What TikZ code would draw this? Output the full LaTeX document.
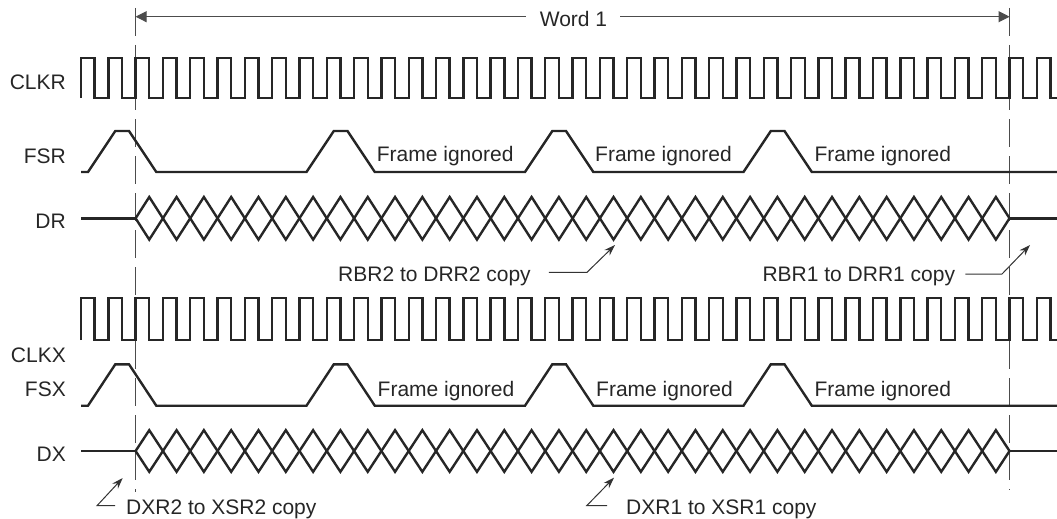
\documentclass[tikz,border=0pt]{standalone}
\usepackage{fontspec}
\setmainfont{Liberation Sans}
\usetikzlibrary{arrows.meta}
\begin{document}
\begin{tikzpicture}[x=1pt,y=-1pt,
  sig/.style={line width=2.4pt,color=black!85,line join=miter},
  lbl/.style={inner sep=0pt,font=\fontsize{21}{25}\selectfont,text=black!85},
  cutline/.style={gray!60!black,line width=0.9pt,dash pattern=on 28pt off 9pt},
  wordarrow/.style={-{Triangle[length=11pt,width=11pt]},gray!60!black,line width=1pt},
  copyarrow/.style={-{Stealth[length=11pt,width=7.5pt]},black!80,line width=1pt}]
\useasboundingbox (0,0) rectangle (1057,519);

% signal names
\node[lbl,anchor=base east] (clkr) at (66,89.3) {CLKR};
\node[lbl,anchor=base east] (fsr) at (66,163.3) {FSR};
\node[lbl,anchor=base east] (dr) at (66,228.3) {DR};
\node[lbl,anchor=base east] (clkx) at (66,362.5) {CLKX};
\node[lbl,anchor=base east] (fsx) at (66,396.5) {FSX};
\node[lbl,anchor=base east] (dx) at (66,461.5) {DX};

% word boundaries
\draw[cutline] (135.6,8) -- (135.6,492);
\draw[cutline] (1009.6,8) -- (1009.6,490);

\node[lbl,anchor=base] (word) at (573.5,26.7) {Word 1};
\coordinate (wl) at (135.6,16.7);
\coordinate (wr) at (1009.6,16.7);
\draw[wordarrow] ([xshift=-14pt]word.west |- wl) -- (wl);
\draw[wordarrow] ([xshift=13pt]word.east |- wr) -- (wr);

% clocks
\draw[sig] (81,98) \foreach \k in {0,...,34} { -- ++(0,-40) -- ++(13.655,0) -- ++(0,40) -- ++(13.655,0) }
  -- ++(0,-40) -- ++(13.655,0) -- ++(0,40) -- (1057,98);
\draw[sig] (81,340) \foreach \k in {0,...,34} { -- ++(0,-42) -- ++(13.655,0) -- ++(0,42) -- ++(13.655,0) }
  -- ++(0,-42) -- ++(13.655,0) -- ++(0,42) -- (1057,340);

% frame syncs
\draw[sig] (81,172) -- (88,172) \foreach \s in {88,306.5,525,743.5} { -- (\s,172) -- (\s+27.3,131) -- (\s+41,131) -- (\s+68.3,172) } -- (1057,172);
\draw[sig] (81,405.7) -- (88,405.7) \foreach \s in {88,306.5,525,743.5} { -- (\s,405.7) -- (\s+27.3,364.3) -- (\s+41,364.3) -- (\s+68.3,405.7) } -- (1057,405.7);

\node[lbl,anchor=base west] (fr1) at (376.7,161.7) {Frame ignored};
\node[lbl,anchor=base west] (fr2) at (595,161.7) {Frame ignored};
\node[lbl,anchor=base west] (fr3) at (814.3,161.7) {Frame ignored};
\node[lbl,anchor=base west] (fx1) at (377.5,396) {Frame ignored};
\node[lbl,anchor=base west] (fx2) at (596,396) {Frame ignored};
\node[lbl,anchor=base west] (fx3) at (814.3,396) {Frame ignored};

% data
\draw[sig] (81,218.3) -- (135.6,218.3);
\foreach \k in {0,...,31}
  \draw[sig] (135.6+\k*27.31,218.3) -- ++(13.655,-21.3) -- ++(13.655,21.3) -- ++(-13.655,21.3) -- cycle;
\draw[sig] (1009.6,218.3) -- (1057,218.3);

\draw[sig] (81,451) -- (135.6,451);
\foreach \k in {0,...,31}
  \draw[sig] (135.6+\k*27.31,451) -- ++(13.655,-20.8) -- ++(13.655,20.8) -- ++(-13.655,20.8) -- cycle;
\draw[sig] (1009.6,451) -- (1057,451);

% copy notes
\node[lbl,anchor=base west] (rbr2) at (338,281.7) {RBR2 to DRR2 copy};
\coordinate (rbr2k) at (587,272.3);
\coordinate (rbr2t) at (615,245);
\draw[copyarrow] ([xshift=18pt]rbr2.east |- rbr2k) -- (rbr2k) -- (rbr2t);

\node[lbl,anchor=base west] (rbr1) at (762.3,281.7) {RBR1 to DRR1 copy};
\coordinate (rbr1k) at (1002,274);
\coordinate (rbr1t) at (1030,245);
\draw[copyarrow] ([xshift=10pt]rbr1.east |- rbr1k) -- (rbr1k) -- (rbr1t);

\node[lbl,anchor=base west] (dxr2) at (126,514) {DXR2 to XSR2 copy};
\coordinate (dxr2k) at (97,505.7);
\coordinate (dxr2t) at (122.7,478);
\draw[copyarrow] ([xshift=-11pt]dxr2.west |- dxr2k) -- (dxr2k) -- (dxr2t);

\node[lbl,anchor=base west] (dxr1) at (626,514) {DXR1 to XSR1 copy};
\coordinate (dxr1k) at (586.7,505.7);
\coordinate (dxr1t) at (614,477.7);
\draw[copyarrow] ([xshift=-19pt]dxr1.west |- dxr1k) -- (dxr1k) -- (dxr1t);
\end{tikzpicture}
\end{document}
